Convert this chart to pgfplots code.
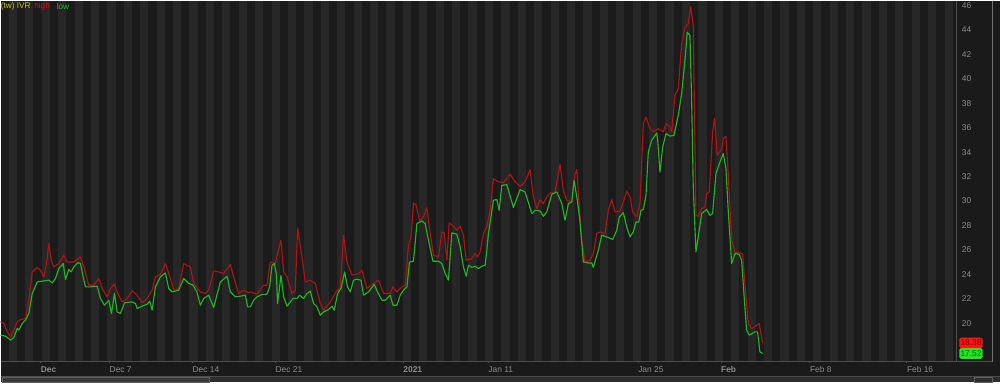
\documentclass[border=0pt]{standalone}
\usepackage{pgfplots}
\pgfplotsset{compat=1.18}
\usepackage{pgfplotstable}
\usepackage{fontspec}
\setmainfont{Liberation Sans}
\definecolor{bgA}{HTML}{1B1B1B}
\definecolor{bgB}{HTML}{272727}
\definecolor{panel}{HTML}{1A1A1A}
\definecolor{axl}{HTML}{4E4E4E}
\definecolor{tickc}{HTML}{8C8C8C}
\definecolor{hiC}{HTML}{B01414}
\definecolor{loC}{HTML}{20B820}
\definecolor{legY}{HTML}{C8C400}
\definecolor{legR}{HTML}{E01010}
\definecolor{legG}{HTML}{12C412}
\definecolor{boxR}{HTML}{FF1414}
\definecolor{boxG}{HTML}{22E622}

\pgfplotstableread{
x v
0 20.11
3.3 19.98
6.7 19.29
10 18.88
13.3 19.43
16.7 20.11
20 20.30
25 20.38
28.3 21.88
31.7 24.19
36.7 24.55
40 24.33
43.3 23.79
46 24.88
48.3 26.52
50.7 25.15
53.3 24.60
58.3 24.88
63.3 25.56
66.7 25.01
73.3 25.01
80 25.42
83.3 24.60
88.3 23.11
93.3 23.11
98.3 23.66
101.7 22.84
106.7 22.15
110 22.84
114 23.19
116.7 22.56
121.7 21.74
126.7 22.02
131.7 22.64
136.7 22.29
141.7 21.66
146.7 22.02
151.7 22.70
155 23.79
160 23.98
165 24.88
170 23.66
173.3 22.70
178.3 22.84
183.3 24.88
190 24.60
193.3 23.25
200 22.56
205 22.43
208.3 22.70
213.3 24.28
218.3 24.20
223.3 24.06
230 24.82
233.3 23.79
238.3 22.43
243.3 22.70
248.3 22.48
250 22.56
256.7 22.37
263.3 23.11
266.7 23.11
270 25.01
275 24.88
277.3 25.70
280.7 26.79
283.3 24.19
286.7 23.79
291.7 22.43
295 22.70
297.3 27.77
301.7 25.42
305 23.38
310 23.52
315 23.25
320 21.61
323.3 21.06
330 21.74
336.7 22.70
340 22.84
343.3 27.20
346.7 25.01
351.7 23.93
358.3 24.06
361.7 24.33
366.7 22.84
373.3 23.25
378.3 23.52
383.3 22.43
390 22.43
392.7 22.97
396.7 22.56
401.7 22.97
405 23.11
408.3 26.38
410.7 26.93
413.3 29.84
416 29.65
419.3 28.42
423.3 28.69
426.7 29.46
430 27.34
433.3 25.56
438.3 25.42
441.7 27.47
444 27.39
446.7 25.15
449 28.20
453.3 27.93
456.7 27.60
460 27.93
463.3 27.20
466 25.15
471.7 25.29
475 25.70
477.3 25.42
480 25.83
483.3 27.34
486.7 27.88
490 29.24
493.3 31.83
498.3 31.56
503.3 31.51
510 32.19
515 31.56
520 31.20
525 31.56
530 32.57
533.3 30.33
536.7 29.38
540 30.12
543.3 29.79
546.7 30.33
550 30.66
555 30.74
560 33.00
563.3 30.88
566.7 30.06
571.7 29.92
575 32.24
576.7 32.57
578.3 30.61
581.7 26.79
585 25.01
590 25.15
593.3 25.70
596.7 27.34
600 27.47
605 27.34
608.3 29.24
611.7 30.12
615 29.10
620 29.16
623.3 29.92
626.7 30.82
630 30.33
632.7 29.10
636.7 28.69
640 29.79
643.3 36.33
646 36.87
650 35.92
653.3 35.65
658.3 35.92
663.3 35.65
666 36.33
669.3 36.11
671.7 35.65
675 38.65
678.3 39.20
681.7 42.87
685 44.23
688.3 44.51
690.7 45.90
693.3 44.37
696 28.83
698.3 28.75
701.7 29.38
705 29.51
706.7 30.61
709.3 30.74
712.7 35.65
714.7 36.76
717.3 33.74
721.7 34.21
723.3 35.10
726 35.29
728.3 32.24
731.7 26.79
735 25.83
740 25.75
742.7 25.64
745 23.25
748.3 19.98
751.7 19.57
755 19.70
759.3 19.98
762.7 18.38
}\highdata

\pgfplotstableread{
x v
0 19.02
5 18.94
10 18.61
13.3 18.83
16.7 19.57
18.3 19.43
21.7 19.98
25 20.25
28.3 20.79
31.7 22.43
36.7 23.38
43.3 23.46
48.3 23.52
51.7 23.30
55 23.66
58.3 24.47
62.7 24.88
65 23.57
68.3 24.39
70.7 24.20
73.3 24.60
77.3 24.96
80 24.88
82.7 23.79
85 22.97
90 22.97
96.7 23.03
100 22.02
104 21.47
108.3 21.88
111 20.79
114 22.43
116.7 20.92
120 20.79
124 21.66
131.7 21.74
135 21.61
136.7 21.20
141.7 21.39
146.7 21.55
149.3 21.80
151.7 21.06
155 22.97
160 23.79
165 24.11
168.3 22.84
171.7 22.56
178.3 22.70
183.3 23.66
188.3 23.25
192.7 23.11
196.7 22.51
200 21.47
203.3 22.02
208.3 22.29
213.3 21.28
220 23.38
226.7 23.84
230 22.56
235 22.15
240 22.21
245 22.29
247.3 21.33
250 21.33
253.3 21.88
256.7 22.15
261.7 22.35
266.7 22.37
269.3 22.97
271.7 24.74
274 24.88
276 24.06
277.3 21.61
280.7 23.93
283.3 22.15
286.7 21.39
290 21.74
292.7 22.02
296.7 22.02
299.3 22.29
303.3 22.02
306.7 22.43
310 22.62
313.3 21.61
316.7 21.33
320 20.65
323.3 20.92
328.3 21.12
331.7 21.39
334 21.06
337.3 22.43
340.7 22.84
344.3 24.19
347.3 22.97
350 22.56
353.3 23.52
356.7 23.60
360.7 23.52
363.3 22.29
368.3 22.56
374 23.17
377.3 22.56
381.7 21.88
385 21.88
390 22.29
392.7 21.47
396.7 21.47
400 22.29
403.3 22.70
406.7 22.97
409.3 25.01
413.3 25.07
416.7 28.15
421.7 28.37
425 28.15
428.3 26.79
432.7 25.07
438.3 25.07
441.7 24.88
445 24.06
448.3 23.52
451.7 27.39
456.7 27.28
460 26.24
463.3 24.60
466 23.84
468.3 24.74
471.7 24.56
475 24.66
478.3 24.47
481.7 24.66
485 24.74
486.7 25.97
488.3 27.34
493.3 30.06
496.7 30.12
499 29.24
501.7 31.28
506.7 31.34
513.3 29.46
520 30.93
525 30.74
531.7 28.97
535 29.24
540 29.18
543.3 28.75
546.7 29.10
551.7 30.55
556.7 30.74
561.7 29.79
565 28.42
568.3 29.79
571.7 29.92
574 31.69
577.3 30.06
580 28.28
583.3 25.01
588.3 24.93
591.7 24.93
593.3 24.56
598.3 25.97
601.7 27.20
606.7 27.06
612.7 26.85
616.7 27.61
619.3 28.69
623.3 29.05
626.7 27.88
630 27.06
633.3 27.47
636 28.28
638.7 28.28
641 29.24
643.3 29.30
646 30.47
648.3 34.01
651.7 34.96
656.7 35.56
657.7 34.96
660 32.37
662.7 34.42
666 35.51
670 35.31
674 35.37
678.3 37.01
681.7 38.78
685 41.51
687.3 43.82
690 43.55
691.7 38.24
693.3 31.15
696 25.83
698.3 27.06
701.7 28.97
706.7 29.30
710 28.83
712.7 28.97
716 32.24
720 33.19
723.3 33.88
726 32.65
728.3 29.24
731.7 24.88
735 25.70
739.3 25.64
741.7 25.15
744 22.43
746.7 19.43
749.3 19.02
755 19.29
757.7 19.29
760 17.65
762.7 17.52
}\lowdata

\begin{document}
\begin{tikzpicture}[x=0.75pt,y=0.75pt]
% whole background
\fill[panel] (0,-21) rectangle (1000,361);
\begin{axis}[
  at={(0,0)}, anchor=south west,
  scale only axis, width=717.75pt, height=270.75pt,
  xmin=0, xmax=957, ymin=16.89, ymax=46.41,
  clip=false,
  axis line style={draw=none},
  axis background/.style={fill=bgA},
  xtick={40,109,192,275,403,488,638,721,810,907},
  xticklabels={\textbf{Dec},Dec 7,Dec 14,Dec 21,\textbf{2021},Jan 11,Jan 25,\textbf{Feb},Feb 8,Feb 16},
  xtick pos=left,
  ytick={20,22,...,46},
  ytick pos=right,
  yticklabel pos=right,
  tick align=outside,
  major tick length=1.5pt,
  x tick style={axl, line width=0.6pt},
  y tick style={draw=none},
  /pgf/number format/assume math mode=true,
  tick label style={font=\fontsize{6.3}{7}\selectfont, text=tickc, inner sep=0pt},
  xticklabel style={anchor=north west, yshift=-2.2pt},
  yticklabel style={anchor=west, xshift=2.2pt},
]
% day stripes
\pgfplotsinvokeforeach{0,...,57}{
  \fill[bgB] (axis cs:{8.3+16.43*#1},16.89) rectangle (axis cs:{16.5+16.43*#1},46.41);
}
\addplot[hiC, line width=0.85pt, line join=round] table[x=x,y=v] {\highdata};
\addplot[loC, line width=0.85pt, line join=round] table[x=x,y=v] {\lowdata};
% last value tags
\node[fill=boxR, text=black!55!red, rounded corners=1.2pt, inner xsep=0.8pt, inner ysep=0pt,
      minimum height=8.1pt, anchor=west, font=\fontsize{6.3}{7}\selectfont] at (axis cs:959.5,18.38) {18.38};
\node[fill=boxG, text=black!60!green, rounded corners=1.2pt, inner xsep=0.8pt, inner ysep=0pt,
      minimum height=8.1pt, anchor=west, font=\fontsize{6.3}{7}\selectfont] at (axis cs:959.5,17.52) {17.52};
\end{axis}
% frame lines
\draw[axl, line width=0.75pt] (0,-0.5) -- (993,-0.5);
\draw[axl, line width=0.75pt] (957,-0.5) -- (957,361);
\draw[axl!80, line width=0.6pt] (993,-0.5) -- (993,361);
% scrollbar
\fill[black!82] (0,-21) rectangle (1000,-15);
\draw[black!70, line width=0.5pt] (0,-15) -- (1000,-15);
\draw[black!62, line width=0.6pt, fill=black!78] (2,-21.5) rectangle (209,-16.5);
\draw[black!62, line width=0.5pt] (975,-21.5) rectangle (993,-16.5);
% legend
\node[anchor=west, inner sep=0pt, font=\fontsize{6.2}{7}\selectfont, text=legY] at (0,355) {(tw) IVR};
\node[anchor=west, inner sep=0pt, font=\fontsize{6.2}{7}\selectfont, text=legR] at (33.5,355) {high};
\node[anchor=west, inner sep=0pt, font=\fontsize{6.2}{7}\selectfont, text=legG] at (56,355) {low};
\end{tikzpicture}
\end{document}
